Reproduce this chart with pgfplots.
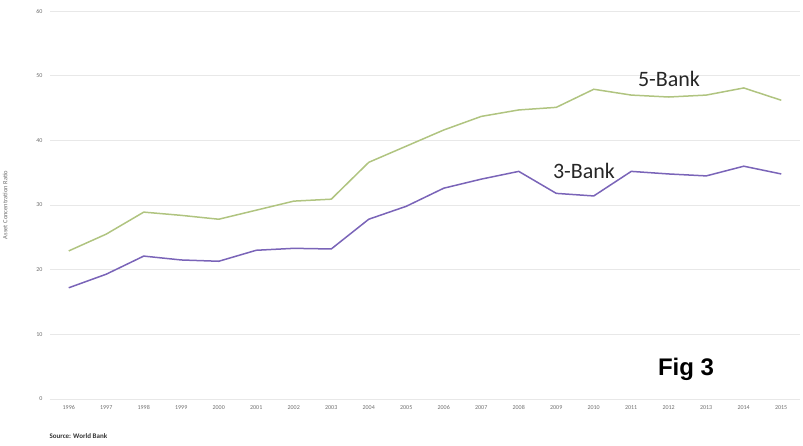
\documentclass[border=0pt]{standalone}
\usepackage{pgfplots}
\pgfplotsset{compat=1.18}
\usepackage{fontspec}
\setmainfont{Carlito}
\newfontfamily\arialf{Liberation Sans}
\definecolor{fivec}{RGB}{176,196,128}
\definecolor{threec}{RGB}{122,100,184}
\definecolor{gridc}{RGB}{232,232,232}
\definecolor{tickc}{RGB}{110,110,110}
\begin{document}
\begin{tikzpicture}[x=1pt,y=1pt]
\useasboundingbox (0,0) rectangle (803,445);
\begin{axis}[
  at={(50pt,46pt)}, anchor=south west,
  scale only axis, width=750pt, height=388pt,
  xmin=1995.5, xmax=2015.5, ymin=0, ymax=60,
  xtick={1996,...,2015},
  xticklabel style={/pgf/number format/1000 sep={}},
  ytick={0,10,...,60},
  ymajorgrids, major grid style={gridc, line width=0.8pt},
  axis x line=bottom, axis y line=left,
  x axis line style={gridc, line width=0.8pt, -},
  y axis line style={draw=none},
  major tick length=0pt,
  tick label style={font=\fontsize{6}{7}\selectfont, text=tickc},
  yticklabel style={xshift=-4pt},
  xticklabel style={yshift=-3pt},
  /pgf/number format/assume math mode=true,
  clip=false,
  ylabel={Asset Concentration Ratio},
  ylabel style={font=\fontsize{6.5}{7}\selectfont, text=tickc, at={(axis description cs:-0.052,0.5)}},
]
\addplot[fivec, line width=1.5pt] coordinates {
(1996,22.9) (1997,25.5) (1998,28.9) (1999,28.4) (2000,27.8) (2001,29.2) (2002,30.6) (2003,30.9) (2004,36.6) (2005,39.1) (2006,41.6) (2007,43.7) (2008,44.7) (2009,45.1) (2010,47.9) (2011,47.0) (2012,46.7) (2013,47.0) (2014,48.1) (2015,46.2)};
\addplot[threec, line width=1.5pt] coordinates {
(1996,17.2) (1997,19.3) (1998,22.1) (1999,21.5) (2000,21.3) (2001,23.0) (2002,23.3) (2003,23.2) (2004,27.8) (2005,29.8) (2006,32.6) (2007,34.0) (2008,35.2) (2009,31.8) (2010,31.4) (2011,35.2) (2012,34.8) (2013,34.5) (2014,36.0) (2015,34.8)};
\end{axis}
\node[font=\fontsize{22}{26}\selectfont, text=black!85] at (669,366) {5-Bank};
\node[font=\fontsize{22}{26}\selectfont, text=black!85] at (584,274) {3-Bank};
\node[font=\arialf\bfseries\fontsize{24}{28}\selectfont] at (686,76) {Fig 3};
\node[font=\fontsize{7}{8}\selectfont\bfseries, text=black!80, anchor=west] at (46,9) {Source: World Bank};
\end{tikzpicture}
\end{document}
